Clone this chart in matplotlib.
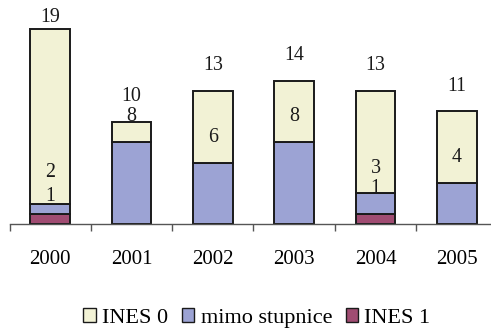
import matplotlib
matplotlib.use("Agg")
import matplotlib.pyplot as plt
from matplotlib.patches import Patch
import numpy as np

YEARS = ["2000", "2001", "2002", "2003", "2004", "2005"]
INES1 = [1, 0, 0, 0, 1, 0]
MIMO = [1, 8, 6, 8, 2, 4]
INES0 = [17, 2, 7, 6, 10, 7]

C_INES0 = "#f2f2d5"
C_MIMO = "#9ca3d4"
C_INES1 = "#a04c72"

plt.rcParams["font.family"] = ["Liberation Serif", "DejaVu Serif"]
FS = 14.4

fig = plt.figure(figsize=(4.91, 3.30), dpi=100)
ax = fig.add_axes([9.5 / 491, 1 - 224 / 330, 488 / 491, 205 / 330])

x = np.arange(len(YEARS))
ines1 = np.array(INES1)
mimo = np.array(MIMO)
ines0 = np.array(INES0)
cum1 = ines1
cum2 = ines1 + mimo
total = cum2 + ines0

kw = dict(width=0.49, edgecolor="#1a1a1a", linewidth=1.4)
ax.bar(x, ines1, color=C_INES1, **kw)
ax.bar(x, mimo, bottom=cum1, color=C_MIMO, **kw)
ax.bar(x, ines0, bottom=cum2, color=C_INES0, **kw)

# running totals written above each level
lift = 2.45
for i in x:
    ax.text(i, min(total[i] + lift, 20.1), str(total[i]), ha="center", va="center",
            fontsize=FS, color="#1a1a1a")
    y2 = cum2[i] + lift
    y1 = cum1[i] + lift
    if i == 0:
        y2 += 0.6
        y1 -= 0.8
    ax.text(i, y2, str(cum2[i]), ha="center", va="center", fontsize=FS, color="#1a1a1a")
    if ines1[i]:
        ax.text(i, y1, str(cum1[i]), ha="center", va="center", fontsize=FS, color="#1a1a1a")

ax.set_xlim(-0.5, 5.5)
ax.set_ylim(0, 20)
for s in ["left", "right", "top"]:
    ax.spines[s].set_visible(False)
ax.spines["bottom"].set_color("#555555")
ax.spines["bottom"].set_linewidth(1.0)
ax.set_yticks([])
ax.set_xticks(x)
ax.set_xticklabels(YEARS, fontsize=15)
ax.tick_params(axis="x", which="major", length=0, pad=19)
ax.set_xticks(np.arange(-0.5, 5.5, 1.0), minor=True)
ax.tick_params(axis="x", which="minor", length=5, width=1.0, color="#555555", direction="out")

handles = [
    Patch(facecolor=C_INES0, edgecolor="#1a1a1a", linewidth=1.0, label="INES 0"),
    Patch(facecolor=C_MIMO, edgecolor="#1a1a1a", linewidth=1.0, label="mimo stupnice"),
    Patch(facecolor=C_INES1, edgecolor="#1a1a1a", linewidth=1.0, label="INES 1"),
]
fig.legend(handles=handles, loc="center", bbox_to_anchor=(257 / 491, 1 - 318 / 330),
           ncol=3, frameon=False, fontsize=16, handlelength=0.55, handleheight=0.55,
           handletextpad=0.3, columnspacing=0.6, borderpad=0)

fig.savefig("out.png", dpi=100)
